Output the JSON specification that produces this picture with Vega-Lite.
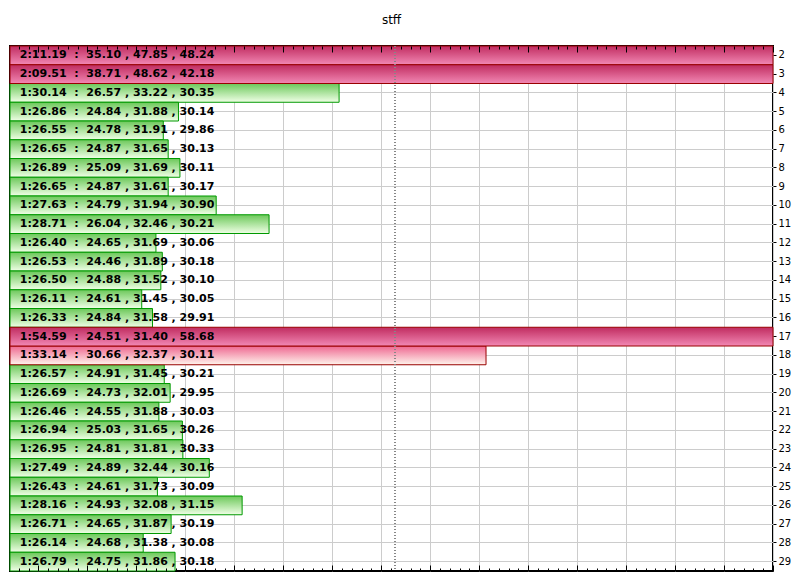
{
  "$schema": "https://vega.github.io/schema/vega-lite/v6.json",
  "width": 763,
  "height": 525,
  "autosize": {"type": "none"},
  "padding": {"left": 10, "top": 46, "right": 27, "bottom": 11},
  "background": "white",
  "title": {
    "text": "stff",
    "font": "DejaVu Sans",
    "fontSize": 12,
    "fontWeight": "normal",
    "color": "black",
    "frame": "group",
    "anchor": "middle",
    "baseline": "alphabetic",
    "offset": 10
  },
  "config": {
    "view": {"stroke": "black", "strokeWidth": 2},
    "axis": {"labelFont": "DejaVu Sans"}
  },
  "data": {
    "values": [
      {"lap": 2, "time": 131.19, "kind": "out", "label": "2:11.19\u00a0\u00a0:\u00a0\u00a035.10 , 47.85 , 48.24"},
      {"lap": 3, "time": 129.51, "kind": "out", "label": "2:09.51\u00a0\u00a0:\u00a0\u00a038.71 , 48.62 , 42.18"},
      {"lap": 4, "time": 90.14, "kind": "ok", "label": "1:30.14\u00a0\u00a0:\u00a0\u00a026.57 , 33.22 , 30.35"},
      {"lap": 5, "time": 86.86, "kind": "ok", "label": "1:26.86\u00a0\u00a0:\u00a0\u00a024.84 , 31.88 , 30.14"},
      {"lap": 6, "time": 86.55, "kind": "ok", "label": "1:26.55\u00a0\u00a0:\u00a0\u00a024.78 , 31.91 , 29.86"},
      {"lap": 7, "time": 86.65, "kind": "ok", "label": "1:26.65\u00a0\u00a0:\u00a0\u00a024.87 , 31.65 , 30.13"},
      {"lap": 8, "time": 86.89, "kind": "ok", "label": "1:26.89\u00a0\u00a0:\u00a0\u00a025.09 , 31.69 , 30.11"},
      {"lap": 9, "time": 86.65, "kind": "ok", "label": "1:26.65\u00a0\u00a0:\u00a0\u00a024.87 , 31.61 , 30.17"},
      {"lap": 10, "time": 87.63, "kind": "ok", "label": "1:27.63\u00a0\u00a0:\u00a0\u00a024.79 , 31.94 , 30.90"},
      {"lap": 11, "time": 88.71, "kind": "ok", "label": "1:28.71\u00a0\u00a0:\u00a0\u00a026.04 , 32.46 , 30.21"},
      {"lap": 12, "time": 86.40, "kind": "ok", "label": "1:26.40\u00a0\u00a0:\u00a0\u00a024.65 , 31.69 , 30.06"},
      {"lap": 13, "time": 86.53, "kind": "ok", "label": "1:26.53\u00a0\u00a0:\u00a0\u00a024.46 , 31.89 , 30.18"},
      {"lap": 14, "time": 86.50, "kind": "ok", "label": "1:26.50\u00a0\u00a0:\u00a0\u00a024.88 , 31.52 , 30.10"},
      {"lap": 15, "time": 86.11, "kind": "ok", "label": "1:26.11\u00a0\u00a0:\u00a0\u00a024.61 , 31.45 , 30.05"},
      {"lap": 16, "time": 86.33, "kind": "ok", "label": "1:26.33\u00a0\u00a0:\u00a0\u00a024.84 , 31.58 , 29.91"},
      {"lap": 17, "time": 114.59, "kind": "out", "label": "1:54.59\u00a0\u00a0:\u00a0\u00a024.51 , 31.40 , 58.68"},
      {"lap": 18, "time": 93.14, "kind": "slow", "label": "1:33.14\u00a0\u00a0:\u00a0\u00a030.66 , 32.37 , 30.11"},
      {"lap": 19, "time": 86.57, "kind": "ok", "label": "1:26.57\u00a0\u00a0:\u00a0\u00a024.91 , 31.45 , 30.21"},
      {"lap": 20, "time": 86.69, "kind": "ok", "label": "1:26.69\u00a0\u00a0:\u00a0\u00a024.73 , 32.01 , 29.95"},
      {"lap": 21, "time": 86.46, "kind": "ok", "label": "1:26.46\u00a0\u00a0:\u00a0\u00a024.55 , 31.88 , 30.03"},
      {"lap": 22, "time": 86.94, "kind": "ok", "label": "1:26.94\u00a0\u00a0:\u00a0\u00a025.03 , 31.65 , 30.26"},
      {"lap": 23, "time": 86.95, "kind": "ok", "label": "1:26.95\u00a0\u00a0:\u00a0\u00a024.81 , 31.81 , 30.33"},
      {"lap": 24, "time": 87.49, "kind": "ok", "label": "1:27.49\u00a0\u00a0:\u00a0\u00a024.89 , 32.44 , 30.16"},
      {"lap": 25, "time": 86.43, "kind": "ok", "label": "1:26.43\u00a0\u00a0:\u00a0\u00a024.61 , 31.73 , 30.09"},
      {"lap": 26, "time": 88.16, "kind": "ok", "label": "1:28.16\u00a0\u00a0:\u00a0\u00a024.93 , 32.08 , 31.15"},
      {"lap": 27, "time": 86.71, "kind": "ok", "label": "1:26.71\u00a0\u00a0:\u00a0\u00a024.65 , 31.87 , 30.19"},
      {"lap": 28, "time": 86.14, "kind": "ok", "label": "1:26.14\u00a0\u00a0:\u00a0\u00a024.68 , 31.38 , 30.08"},
      {"lap": 29, "time": 86.79, "kind": "ok", "label": "1:26.79\u00a0\u00a0:\u00a0\u00a024.75 , 31.86 , 30.18"}
    ]
  },
  "layer": [
    {
      "transform": [{"filter": "datum.kind == 'ok'"}],
      "mark": {
        "type": "bar",
        "fill": {"gradient": "linear", "x1": 0, "y1": 0, "x2": 0, "y2": 1,
          "stops": [{"offset": 0, "color": "#6cc85a"}, {"offset": 1, "color": "#f0ffe6"}]},
        "stroke": "#009900",
        "strokeWidth": 1
      },
      "encoding": {
        "y": {
          "field": "lap", "type": "ordinal",
          "scale": {"paddingInner": 0, "paddingOuter": 0},
          "axis": {"orient": "right", "title": null, "grid": true, "gridColor": "#cccccc",
            "domain": false, "tickColor": "black", "tickSize": 3, "labelFontSize": 10,
            "labelColor": "black", "labelPadding": 2}
        },
        "x": {
          "field": "time", "type": "quantitative",
          "scale": {"domain": [83.42, 99], "clamp": true, "zero": false, "nice": false},
          "axis": {"orient": "bottom", "title": null,
            "values": [84, 85, 86, 87, 88, 89, 90, 91, 92, 93, 94, 95, 96, 97, 98, 99],
            "grid": true, "gridColor": "#cccccc", "ticks": false, "labels": false, "domain": false}
        }
      }
    },
    {
      "transform": [{"filter": "datum.kind == 'slow'"}],
      "mark": {
        "type": "bar",
        "fill": {"gradient": "linear", "x1": 0, "y1": 0, "x2": 0, "y2": 1,
          "stops": [{"offset": 0, "color": "#ee6690"}, {"offset": 1, "color": "#fff4ec"}]},
        "stroke": "#990000",
        "strokeWidth": 1
      },
      "encoding": {
        "y": {"field": "lap", "type": "ordinal"},
        "x": {
          "field": "time", "type": "quantitative",
          "scale": {"domain": [83.42, 99], "clamp": true, "zero": false, "nice": false},
          "axis": {"orient": "bottom", "title": null,
            "values": [84, 85, 86, 87, 88, 89, 90, 91, 92, 93, 94, 95, 96, 97, 98, 99],
            "grid": false, "labels": false, "domain": false, "ticks": true,
            "tickSize": -6, "tickColor": "black", "zindex": 1}
        }
      }
    },
    {
      "transform": [{"filter": "datum.kind == 'out'"}],
      "mark": {
        "type": "bar",
        "fill": {"gradient": "linear", "x1": 0, "y1": 0, "x2": 0, "y2": 1,
          "stops": [{"offset": 0, "color": "#c02c60"}, {"offset": 1, "color": "#f288b4"}]},
        "stroke": "#990000",
        "strokeWidth": 1
      },
      "encoding": {
        "y": {"field": "lap", "type": "ordinal"},
        "x": {
          "field": "time", "type": "quantitative",
          "scale": {"domain": [83.42, 99], "clamp": true, "zero": false, "nice": false},
          "axis": {"orient": "bottom", "title": null,
            "values": [83.6, 83.8, 84.2, 84.4, 84.6, 84.8, 85.2, 85.4, 85.6, 85.8, 86.2, 86.4, 86.6, 86.8, 87.2, 87.4, 87.6, 87.8, 88.2, 88.4, 88.6, 88.8, 89.2, 89.4, 89.6, 89.8, 90.2, 90.4, 90.6, 90.8, 91.2, 91.4, 91.6, 91.8, 92.2, 92.4, 92.6, 92.8, 93.2, 93.4, 93.6, 93.8, 94.2, 94.4, 94.6, 94.8, 95.2, 95.4, 95.6, 95.8, 96.2, 96.4, 96.6, 96.8, 97.2, 97.4, 97.6, 97.8, 98.2, 98.4, 98.6, 98.8],
            "grid": false, "labels": false, "domain": false, "ticks": true,
            "tickSize": -3, "tickColor": "black", "zindex": 1}
        }
      }
    },
    {
      "mark": {"type": "rule", "stroke": "#888888", "strokeDash": [1, 2], "strokeWidth": 1},
      "encoding": {
        "x": {
          "datum": 91.28, "type": "quantitative",
          "scale": {"domain": [83.42, 99], "clamp": true, "zero": false, "nice": false},
          "axis": {"orient": "top", "title": null,
            "values": [84, 85, 86, 87, 88, 89, 90, 91, 92, 93, 94, 95, 96, 97, 98, 99],
            "grid": false, "labels": false, "domain": false, "ticks": true,
            "tickSize": -6, "tickColor": "black", "zindex": 1}
        }
      }
    },
    {
      "mark": {"type": "text", "align": "left", "baseline": "middle", "font": "DejaVu Sans",
        "fontWeight": "bold", "fontSize": 11, "fill": "black"},
      "encoding": {
        "y": {"field": "lap", "type": "ordinal"},
        "x": {
          "datum": 83.62, "type": "quantitative",
          "scale": {"domain": [83.42, 99], "clamp": true, "zero": false, "nice": false},
          "axis": {"orient": "top", "title": null,
            "values": [83.6, 83.8, 84.2, 84.4, 84.6, 84.8, 85.2, 85.4, 85.6, 85.8, 86.2, 86.4, 86.6, 86.8, 87.2, 87.4, 87.6, 87.8, 88.2, 88.4, 88.6, 88.8, 89.2, 89.4, 89.6, 89.8, 90.2, 90.4, 90.6, 90.8, 91.2, 91.4, 91.6, 91.8, 92.2, 92.4, 92.6, 92.8, 93.2, 93.4, 93.6, 93.8, 94.2, 94.4, 94.6, 94.8, 95.2, 95.4, 95.6, 95.8, 96.2, 96.4, 96.6, 96.8, 97.2, 97.4, 97.6, 97.8, 98.2, 98.4, 98.6, 98.8],
            "grid": false, "labels": false, "domain": false, "ticks": true,
            "tickSize": -3, "tickColor": "black", "zindex": 1}
        },
        "text": {"field": "label"}
      }
    }
  ],
  "resolve": {"scale": {"x": "shared"}, "axis": {"x": "independent"}}
}
